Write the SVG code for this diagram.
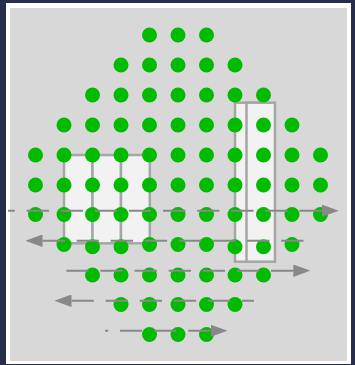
<svg xmlns="http://www.w3.org/2000/svg" width="355" height="365" viewBox="0 0 355 365">
<style>
.dot{fill:#00bb00}
.cell{fill:#f2f2f2;stroke:#a6a6a6;stroke-width:2.5}
.flow{fill:none;stroke:#888888;stroke-width:2;stroke-dasharray:22.3 11.8;marker-start:url(#arr)}
</style>
<defs>
<marker id="arr" markerUnits="userSpaceOnUse" markerWidth="17" markerHeight="12.4" viewBox="0 0 17 12.4" refX="0" refY="6.2" orient="auto-start-reverse">
<path d="M0,0 L17,6.2 L0,12.4 Z" fill="#888888"/>
</marker>
</defs>
<rect x="0" y="0" width="355" height="365" fill="#272e4a"/>
<rect x="6" y="3" width="345" height="361" fill="#ffffff"/>
<rect x="10" y="8" width="337" height="353" fill="#d8d8d8"/>
<g id="block-left">
<rect class="cell" x="64" y="155" width="28.5" height="88.3"/>
<rect class="cell" x="92.5" y="155" width="28.5" height="88.3"/>
<rect class="cell" x="121" y="155" width="28.8" height="88.3"/>
</g>
<g id="block-right">
<rect class="cell" x="235" y="102.7" width="29.2" height="159"/>
<rect class="cell" x="246.5" y="102.7" width="28.5" height="159"/>
</g>
<g id="dots">
<circle class="dot" id="d1-4" cx="149.5" cy="35" r="7.5"/><circle class="dot" id="d1-5" cx="178" cy="35" r="7.5"/><circle class="dot" id="d1-6" cx="206.5" cy="35" r="7.5"/>
<circle class="dot" id="d2-3" cx="121" cy="65" r="7.5"/><circle class="dot" id="d2-4" cx="149.5" cy="65" r="7.5"/><circle class="dot" id="d2-5" cx="178" cy="65" r="7.5"/><circle class="dot" id="d2-6" cx="206.5" cy="65" r="7.5"/><circle class="dot" id="d2-7" cx="235" cy="65" r="7.5"/>
<circle class="dot" id="d3-2" cx="92.5" cy="95" r="7.5"/><circle class="dot" id="d3-3" cx="121" cy="95" r="7.5"/><circle class="dot" id="d3-4" cx="149.5" cy="95" r="7.5"/><circle class="dot" id="d3-5" cx="178" cy="95" r="7.5"/><circle class="dot" id="d3-6" cx="206.5" cy="95" r="7.5"/><circle class="dot" id="d3-7" cx="235" cy="95" r="7.5"/><circle class="dot" id="d3-8" cx="263.5" cy="95" r="7.5"/>
<circle class="dot" id="d4-1" cx="64" cy="125" r="7.5"/><circle class="dot" id="d4-2" cx="92.5" cy="125" r="7.5"/><circle class="dot" id="d4-3" cx="121" cy="125" r="7.5"/><circle class="dot" id="d4-4" cx="149.5" cy="125" r="7.5"/><circle class="dot" id="d4-5" cx="178" cy="125" r="7.5"/><circle class="dot" id="d4-6" cx="206.5" cy="125" r="7.5"/><circle class="dot" id="d4-7" cx="235" cy="125" r="7.5"/><circle class="dot" id="d4-8" cx="263.5" cy="125" r="7.5"/><circle class="dot" id="d4-9" cx="292" cy="125" r="7.5"/>
<circle class="dot" id="d5-0" cx="35.5" cy="155" r="7.5"/><circle class="dot" id="d5-1" cx="64" cy="155" r="7.5"/><circle class="dot" id="d5-2" cx="92.5" cy="155" r="7.5"/><circle class="dot" id="d5-3" cx="121" cy="155" r="7.5"/><circle class="dot" id="d5-4" cx="149.5" cy="155" r="7.5"/><circle class="dot" id="d5-5" cx="178" cy="155" r="7.5"/><circle class="dot" id="d5-6" cx="206.5" cy="155" r="7.5"/><circle class="dot" id="d5-7" cx="235" cy="155" r="7.5"/><circle class="dot" id="d5-8" cx="263.5" cy="155" r="7.5"/><circle class="dot" id="d5-9" cx="292" cy="155" r="7.5"/><circle class="dot" id="d5-10" cx="320.5" cy="155" r="7.5"/>
<circle class="dot" id="d6-0" cx="35.5" cy="185" r="7.5"/><circle class="dot" id="d6-1" cx="64" cy="185" r="7.5"/><circle class="dot" id="d6-2" cx="92.5" cy="185" r="7.5"/><circle class="dot" id="d6-3" cx="121" cy="185" r="7.5"/><circle class="dot" id="d6-4" cx="149.5" cy="185" r="7.5"/><circle class="dot" id="d6-5" cx="178" cy="185" r="7.5"/><circle class="dot" id="d6-6" cx="206.5" cy="185" r="7.5"/><circle class="dot" id="d6-7" cx="235" cy="185" r="7.5"/><circle class="dot" id="d6-8" cx="263.5" cy="185" r="7.5"/><circle class="dot" id="d6-9" cx="292" cy="185" r="7.5"/><circle class="dot" id="d6-10" cx="320.5" cy="185" r="7.5"/>
<circle class="dot" id="d7-0" cx="35.5" cy="214.5" r="7.5"/><circle class="dot" id="d7-1" cx="64" cy="214.5" r="7.5"/><circle class="dot" id="d7-2" cx="92.5" cy="214.5" r="7.5"/><circle class="dot" id="d7-3" cx="121" cy="214.5" r="7.5"/><circle class="dot" id="d7-4" cx="149.5" cy="214.5" r="7.5"/><circle class="dot" id="d7-5" cx="178" cy="214.5" r="7.5"/><circle class="dot" id="d7-6" cx="206.5" cy="214.5" r="7.5"/><circle class="dot" id="d7-7" cx="235" cy="214.5" r="7.5"/><circle class="dot" id="d7-8" cx="263.5" cy="214.5" r="7.5"/><circle class="dot" id="d7-9" cx="292" cy="214.5" r="7.5"/><circle class="dot" id="d7-10" cx="320.5" cy="214.5" r="7.5"/>
<circle class="dot" id="d8-1" cx="64" cy="244.5" r="7.5"/><circle class="dot" id="d8-2" cx="92.5" cy="246.7" r="7.5"/><circle class="dot" id="d8-3" cx="121" cy="246.7" r="7.5"/><circle class="dot" id="d8-4" cx="149.5" cy="244.5" r="7.5"/><circle class="dot" id="d8-5" cx="178" cy="244.5" r="7.5"/><circle class="dot" id="d8-6" cx="206.5" cy="244.5" r="7.5"/><circle class="dot" id="d8-7" cx="235" cy="246.7" r="7.5"/><circle class="dot" id="d8-8" cx="263.5" cy="246.7" r="7.5"/><circle class="dot" id="d8-9" cx="292" cy="244.5" r="7.5"/>
<circle class="dot" id="d9-2" cx="92.5" cy="275" r="7.5"/><circle class="dot" id="d9-3" cx="121" cy="275" r="7.5"/><circle class="dot" id="d9-4" cx="149.5" cy="275" r="7.5"/><circle class="dot" id="d9-5" cx="178" cy="275" r="7.5"/><circle class="dot" id="d9-6" cx="206.5" cy="275" r="7.5"/><circle class="dot" id="d9-7" cx="235" cy="275" r="7.5"/><circle class="dot" id="d9-8" cx="263.5" cy="275" r="7.5"/>
<circle class="dot" id="d10-3" cx="121" cy="304.5" r="7.5"/><circle class="dot" id="d10-4" cx="149.5" cy="304.5" r="7.5"/><circle class="dot" id="d10-5" cx="178" cy="304.5" r="7.5"/><circle class="dot" id="d10-6" cx="206.5" cy="304.5" r="7.5"/><circle class="dot" id="d10-7" cx="235" cy="304.5" r="7.5"/>
<circle class="dot" id="d11-4" cx="149.5" cy="334.5" r="7.5"/><circle class="dot" id="d11-5" cx="178" cy="334.5" r="7.5"/><circle class="dot" id="d11-6" cx="206.5" cy="334.5" r="7.5"/>
</g>
<g id="connectors">
<path class="flow" d="M321.7,210.7 H8"/>
<path class="flow" d="M42.5,240.7 H303.5"/>
<path class="flow" d="M293.3,270.7 H66.4"/>
<path class="flow" d="M71.5,300.7 H254"/>
<path class="flow" d="M210.5,330.8 H105"/>
</g>
</svg>
